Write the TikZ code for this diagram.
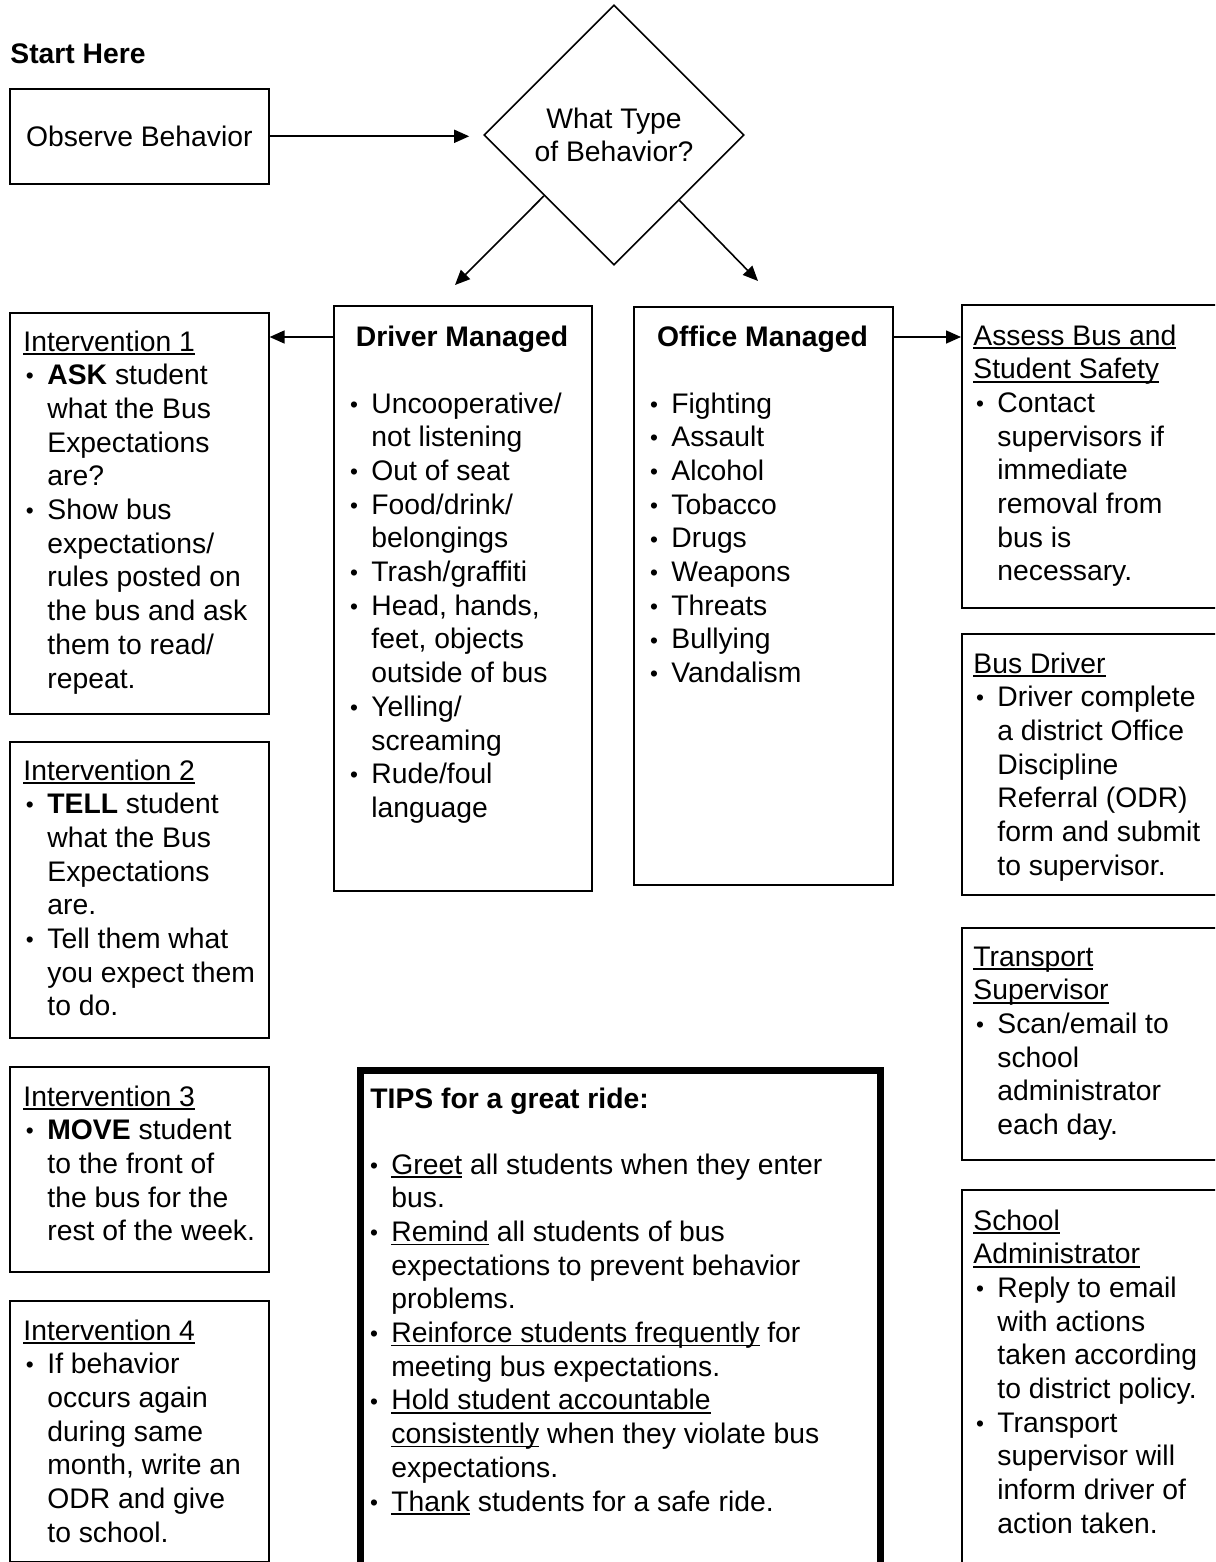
\documentclass[tikz,border=0pt]{standalone}
\usepackage{fontspec}
\setmainfont{Liberation Sans}
\usepackage{graphicx}
\usetikzlibrary{shapes.geometric,arrows.meta,calc}
\newsavebox\ulbox
\newcommand\myul[1]{\leavevmode\sbox\ulbox{#1}\rlap{\rule[-1.9pt]{\wd\ulbox}{0.7pt}}\usebox\ulbox}
\newcommand\bul{\leavevmode\makebox[12pt][l]{\hspace{1.3pt}\raisebox{0.4pt}{\scalebox{0.8}{\textbullet}}}}
\newcommand\ind{\leavevmode\hspace*{12pt}}
\newcommand\lns[1]{\parbox[t]{300pt}{\raggedright #1}}
\begin{document}
\begin{tikzpicture}[x=0.5pt,y=-0.5pt,
  every node/.style={font=\fontsize{14.15pt}{16.85pt}\selectfont},
  box/.style={draw, line width=0.8pt, anchor=north west, inner sep=0pt},
  txt/.style={anchor=base west, inner sep=0pt},
  ttl/.style={anchor=base, inner sep=0pt},
  arr/.style={line width=0.8pt, -{Triangle[length=7.5pt,width=6.5pt]}}]
\useasboundingbox (0,0) rectangle (1215,1562);
\clip (0,0) rectangle (1215,1562);
\fill[white] (0,0) rectangle (1215,1562);

% start
\node[txt] (start) at (10,64) {\textbf{Start Here}};
\node[box, minimum width=129.5pt, minimum height=47.5pt] (obs) at (9,88) {Observe Behavior};
\node[diamond, draw, line width=0.8pt, minimum width=130pt, minimum height=130pt,
      inner sep=0pt, aspect=1, align=center] (dia) at (614,135) {What Type\\of Behavior?};

% middle columns
\node[box, minimum width=129pt, minimum height=292.5pt] (dm) at (333,305) {};
\node[ttl] (dmt) at (462,346) {\textbf{Driver Managed}};
\node[txt] (dml) at (347,413) {\lns{%
\bul Uncooperative/\\
\ind not listening\\
\bul Out of seat\\
\bul Food/drink/\\
\ind belongings\\
\bul Trash/graffiti\\
\bul Head, hands,\\
\ind feet, objects\\
\ind outside of bus\\
\bul Yelling/\\
\ind screaming\\
\bul Rude/foul\\
\ind language}};

\node[box, minimum width=129.5pt, minimum height=289pt] (om) at (633,306) {};
\node[ttl] (omt) at (762.5,346) {\textbf{Office Managed}};
\node[txt] (oml) at (647,413) {\lns{%
\bul Fighting\\
\bul Assault\\
\bul Alcohol\\
\bul Tobacco\\
\bul Drugs\\
\bul Weapons\\
\bul Threats\\
\bul Bullying\\
\bul Vandalism}};

% left column
\node[box, minimum width=129.5pt, minimum height=200.5pt] (i1) at (9,312) {};
\node[txt] (i1t) at (23,351) {\lns{%
\myul{Intervention 1}\\
\bul\textbf{ASK} student\\
\ind what the Bus\\
\ind Expectations\\
\ind are?\\
\bul Show bus\\
\ind expectations/\\
\ind rules posted on\\
\ind the bus and ask\\
\ind them to read/\\
\ind repeat.}};

\node[box, minimum width=129.5pt, minimum height=148pt] (i2) at (9,741) {};
\node[txt] (i2t) at (23,780) {\lns{%
\myul{Intervention 2}\\
\bul\textbf{TELL} student\\
\ind what the Bus\\
\ind Expectations\\
\ind are.\\
\bul Tell them what\\
\ind you expect them\\
\ind to do.}};

\node[box, minimum width=129.5pt, minimum height=102.5pt] (i3) at (9,1066) {};
\node[txt] (i3t) at (23,1106) {\lns{%
\myul{Intervention 3}\\
\bul\textbf{MOVE} student\\
\ind to the front of\\
\ind the bus for the\\
\ind rest of the week.}};

\node[box, minimum width=129.5pt, minimum height=130.5pt] (i4) at (9,1300) {};
\node[txt] (i4t) at (23,1340) {\lns{%
\myul{Intervention 4}\\
\bul If behavior\\
\ind occurs again\\
\ind during same\\
\ind month, write an\\
\ind ODR and give\\
\ind to school.}};

% right column
\node[box, minimum width=140pt, minimum height=151.5pt] (as) at (961,304) {};
\node[txt] (ast) at (973,345) {\lns{%
\myul{Assess Bus and}\\
\myul{Student Safety}\\
\bul Contact\\
\ind supervisors if\\
\ind immediate\\
\ind removal from\\
\ind bus is\\
\ind necessary.}};

\node[box, minimum width=140pt, minimum height=130.5pt] (bd) at (961,633) {};
\node[txt] (bdt) at (973,673) {\lns{%
\myul{Bus Driver}\\
\bul Driver complete\\
\ind a district Office\\
\ind Discipline\\
\ind Referral (ODR)\\
\ind form and submit\\
\ind to supervisor.}};

\node[box, minimum width=140pt, minimum height=116pt] (ts) at (961,927) {};
\node[txt] (tst) at (973,966) {\lns{%
\myul{Transport}\\
\myul{Supervisor}\\
\bul Scan/email to\\
\ind school\\
\ind administrator\\
\ind each day.}};

\node[box, minimum width=140pt, minimum height=200pt] (sa) at (961,1189) {};
\node[txt] (sat) at (973,1230) {\lns{%
\myul{School}\\
\myul{Administrator}\\
\bul Reply to email\\
\ind with actions\\
\ind taken according\\
\ind to district policy.\\
\bul Transport\\
\ind supervisor will\\
\ind inform driver of\\
\ind action taken.}};

% tips
\node[draw, line width=3.5pt, anchor=north west, inner sep=0pt,
      minimum width=260pt, minimum height=262pt] (tips) at (356.5,1067) {};
\node[txt] (tipst) at (370,1108) {\textbf{TIPS for a great ride:}};
\node[txt] (tipsl) at (367,1174) {\lns{%
\bul\myul{Greet} all students when they enter\\
\ind bus.\\
\bul\myul{Remind} all students of bus\\
\ind expectations to prevent behavior\\
\ind problems.\\
\bul\myul{Reinforce students frequently} for\\
\ind meeting bus expectations.\\
\bul\myul{Hold student accountable}\\
\ind\myul{consistently} when they violate bus\\
\ind expectations.\\
\bul\myul{Thank} students for a safe ride.}};

% connectors
\coordinate (r1) at (0,337);
\coordinate (dl) at (455,285);
\coordinate (dr) at (758,281);
\draw[arr] (obs.east) -- ([xshift=-7pt]obs.east -| dia.west);
\draw[arr] (dia.221) -- (dl);
\draw[arr] (dia.315) -- (dr);
\draw[arr] (dm.west |- r1) -- (i1.east |- r1);
\draw[arr] (om.east |- r1) -- (as.west |- r1);
\end{tikzpicture}
\end{document}
